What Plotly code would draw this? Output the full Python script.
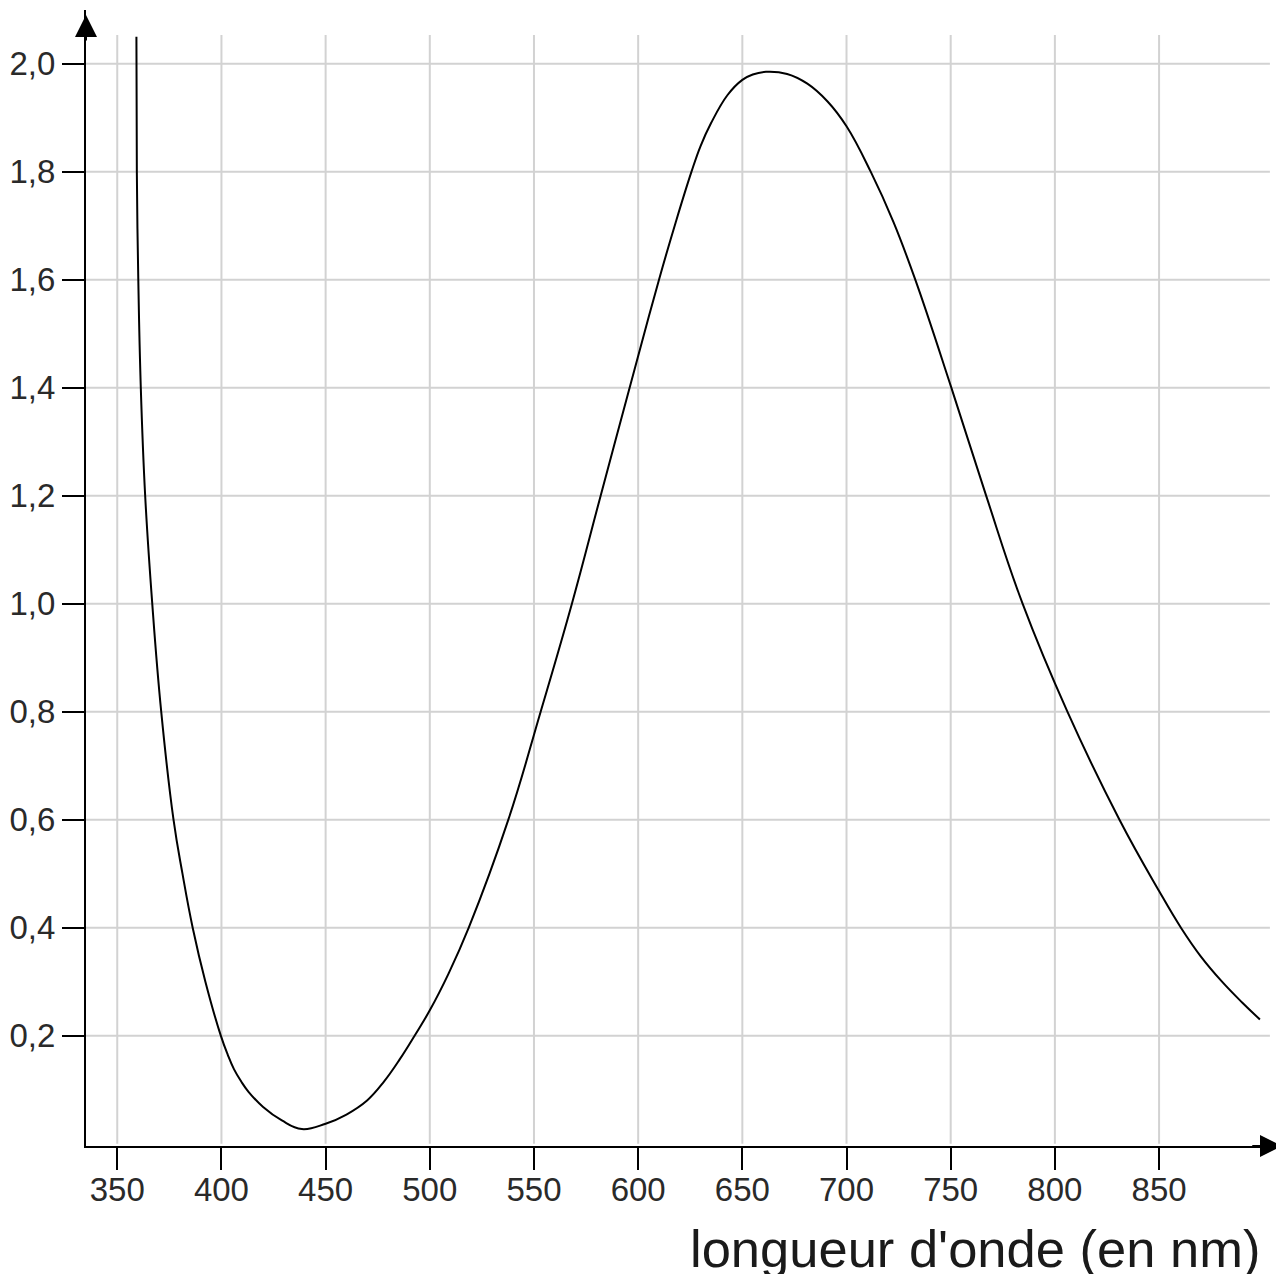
import plotly.graph_objects as go

# courbe : longueur d'onde (nm) -> valeur
wavelength = [359.2, 359.4, 360.1, 361.3, 363.4, 366.8, 371.1, 377.0, 381.3,
              386.2, 392.3, 399.7, 403.0, 406.0, 409.5, 413.0, 420.0, 429.0,
              438.6, 450.0, 460.0, 469.9, 478.0, 485.7, 492.7, 500.0, 509.0,
              518.7, 537.7, 553.2, 568.2, 582.0, 595.9, 610.0, 618.0, 625.6,
              630.0, 635.0, 642.9, 650.0, 655.0, 661.3, 671.5, 681.2, 690.9,
              700.0, 711.6, 722.5, 733.0, 750.3, 767.0, 784.5, 806.0, 831.0,
              850.0, 860.5, 870.0, 880.0, 890.0, 898.4]
value = [2.05, 1.80, 1.60, 1.40, 1.20, 1.00, 0.80, 0.60, 0.50,
         0.40, 0.30, 0.20, 0.165, 0.138, 0.115, 0.096, 0.068, 0.043,
         0.027, 0.037, 0.054, 0.080, 0.115, 0.157, 0.200, 0.247, 0.315,
         0.40, 0.60, 0.80, 1.00, 1.20, 1.40, 1.60, 1.706, 1.80,
         1.848, 1.890, 1.942, 1.970, 1.980, 1.985, 1.981, 1.963, 1.930,
         1.884, 1.80, 1.707, 1.60, 1.40, 1.20, 1.00, 0.80, 0.60,
         0.468, 0.40, 0.347, 0.301, 0.261, 0.230]

x_ticks = [350, 400, 450, 500, 550, 600, 650, 700, 750, 800, 850]
y_ticks = [0.2, 0.4, 0.6, 0.8, 1.0, 1.2, 1.4, 1.6, 1.8, 2.0]
y_labels = ["0,2", "0,4", "0,6", "0,8", "1,0", "1,2", "1,4", "1,6", "1,8", "2,0"]

X_MIN, X_MAX = 335, 909
Y_MIN, Y_MAX = -0.0043, 2.0994
GRID_TOP = 2.053
GRID_RIGHT = 903.2
FONT = "Liberation Sans, Arial, sans-serif"

fig = go.Figure()
fig.add_trace(go.Scatter(
    x=wavelength, y=value, mode="lines",
    line=dict(color="black", width=2, shape="spline", smoothing=1.2),
    hoverinfo="skip", showlegend=False,
))

# quadrillage (limité comme sur l'original)
shapes = []
for xv in x_ticks:
    shapes.append(dict(type="line", xref="x", yref="y", x0=xv, x1=xv, y0=0, y1=GRID_TOP,
                       line=dict(color="#d2d2d2", width=2), layer="below"))
for yv in y_ticks:
    shapes.append(dict(type="line", xref="x", yref="y", x0=X_MIN, x1=GRID_RIGHT, y0=yv, y1=yv,
                       line=dict(color="#d2d2d2", width=2), layer="below"))

annotations = [
    # flèches des axes
    dict(x=X_MAX, y=Y_MIN, ax=X_MAX - 15, ay=Y_MIN, xref="x", yref="y", axref="x", ayref="y",
         text="", showarrow=True, arrowhead=2, arrowsize=2.2, arrowwidth=2, arrowcolor="black"),
    dict(x=X_MIN, y=2.09, ax=X_MIN, ay=2.04, xref="x", yref="y", axref="x", ayref="y",
         text="", showarrow=True, arrowhead=2, arrowsize=2.2, arrowwidth=2, arrowcolor="black"),
    dict(x=0.9835, y=-0.0902, xref="paper", yref="paper", xanchor="right", yanchor="middle",
         text="longueur d'onde (en nm)", showarrow=False,
         font=dict(family=FONT, size=52.5, color="#1a1a1a")),
]

# la page ajoute 8 px de marge au body : on compense dans les marges
fig.update_layout(
    width=1284, height=1274,
    margin=dict(l=78, r=10, t=2, b=136),
    paper_bgcolor="white", plot_bgcolor="white",
    shapes=shapes, annotations=annotations,
    font=dict(family=FONT, size=33, color="#2a2a2a"),
)
fig.update_xaxes(
    range=[X_MIN, X_MAX], tickvals=x_ticks, ticktext=[str(v) for v in x_ticks],
    showgrid=False, zeroline=False, showline=True, linecolor="black", linewidth=2,
    ticks="outside", ticklen=22, tickwidth=2, tickcolor="black", automargin=False,
    ticklabelstandoff=-9,
)
fig.update_yaxes(
    range=[Y_MIN, Y_MAX], tickvals=y_ticks, ticktext=y_labels,
    showgrid=False, zeroline=False, showline=True, linecolor="black", linewidth=2,
    ticks="outside", ticklen=22, tickwidth=2, tickcolor="black", automargin=False,
)

fig.write_html("out.html")
